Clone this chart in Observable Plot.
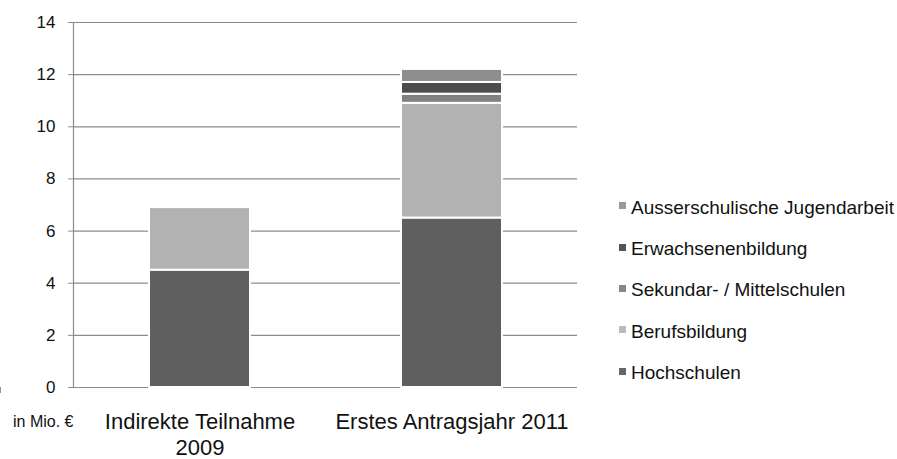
<!DOCTYPE html>
<html>
<head>
<meta charset="utf-8">
<script src="https://cdn.jsdelivr.net/npm/d3@7"></script>
<script src="https://cdn.jsdelivr.net/npm/@observablehq/plot@0.6"></script>
<style>
  html, body { margin: 0; padding: 0; background: #fff; }
  #wrap { position: relative; width: 897px; height: 459px; font-family: "Liberation Sans", Arial, sans-serif; }
  #unit { position: absolute; left: 13px; top: 413.5px; font-size: 16px; line-height: 16px; color: #111; white-space: nowrap; }
  #legend { position: absolute; left: 0; top: 0; font-size: 19px; color: #111; }
  #legend .item { position: absolute; left: 631px; height: 41.3px; line-height: 41.3px; white-space: nowrap; }
  #legend .sw { position: absolute; left: -12px; top: 15.5px; width: 7px; height: 7px; }
</style>
</head>
<body>
<div id="wrap">
  <div id="unit">in Mio. €</div>
  <div id="legend"></div>
</div>
<script>
const categories = ["Indirekte Teilnahme\n2009", "Erstes Antragsjahr 2011"];
const series = ["Hochschulen", "Berufsbildung", "Sekundar- / Mittelschulen", "Erwachsenenbildung", "Ausserschulische Jugendarbeit"];
const colors = ["#5f5f5f", "#b2b2b2", "#808080", "#4d4d4d", "#8e8e8e"];
const legendColors = ["#666666", "#bbbbbb", "#888888", "#555555", "#999999"];
const values2009 = [4.5, 2.4, 0, 0, 0];
const values2011 = [6.5, 4.4, 0.35, 0.45, 0.5];
const yTicks = [0, 2, 4, 6, 8, 10, 12, 14];

const data = [];
series.forEach((s, i) => {
  data.push({cat: categories[0], series: s, value: values2009[i]});
  data.push({cat: categories[1], series: s, value: values2011[i]});
});

function boundaryTicks(index, scales, values, dimensions) {
  const x = scales.x;
  const step = x.step ? x.step() : (x.bandwidth / 0.4);
  const bw = x.bandwidth;
  const y0 = dimensions.height - dimensions.marginBottom;
  const g = d3.create("svg:g");
  const xs = [];
  categories.forEach((c, i) => {
    const left = x(c) - (step - bw) / 2;
    xs.push(left);
    if (i === categories.length - 1) xs.push(left + step);
  });
  xs.forEach(px => {
    g.append("line").attr("x1", px).attr("x2", px).attr("y1", y0).attr("y2", y0 + 6)
      .attr("stroke", "#8c8c8c").attr("stroke-width", 1.2);
  });
  return g.node();
}

const chart = Plot.plot({
  width: 897,
  height: 459,
  marginLeft: 73,
  marginRight: 320,
  marginTop: 22,
  marginBottom: 72,
  style: {fontFamily: "Liberation Sans, Arial, sans-serif", color: "#111", background: "transparent"},
  x: {domain: categories, paddingInner: 0.6, paddingOuter: 0.3, label: null},
  y: {domain: [0, 14], label: null},
  color: {domain: series, range: colors},
  marks: [
    Plot.gridY(yTicks, {stroke: "#8c8c8c", strokeOpacity: 1, strokeWidth: 1.2}),
    Plot.frame({anchor: "left", stroke: "#8c8c8c", strokeWidth: 1.2}),
    Plot.ruleY([0], {stroke: "#8c8c8c", strokeWidth: 1.2}),
    Plot.axisY({ticks: yTicks, tickSize: 5, tickPadding: 13, fontSize: 17, stroke: "#8c8c8c", label: null}),
    Plot.axisX({tickSize: 0, tickPadding: 22, fontSize: 22, lineHeight: 1.22, label: null}),
    boundaryTicks,
    Plot.barY(data, Plot.stackY({
      filter: d => d.value > 0,
      x: "cat", y: "value", fill: "series", order: series,
      stroke: "white", strokeWidth: 2,
      style: {filter: "drop-shadow(0px 0px 1.5px rgba(0,0,0,0.35))"}
    }))
  ]
});
document.getElementById("wrap").prepend(chart);
chart.style.position = "absolute";
chart.style.left = "0";
chart.style.top = "0";

const legend = document.getElementById("legend");
const order = series.slice().reverse();
order.forEach((s, k) => {
  const i = series.indexOf(s);
  const item = document.createElement("div");
  item.className = "item";
  item.style.top = (186.8 + k * 41.3) + "px";
  const sw = document.createElement("span");
  sw.className = "sw";
  sw.style.background = legendColors[i];
  const lab = document.createElement("span");
  lab.textContent = s;
  item.appendChild(sw);
  item.appendChild(lab);
  legend.appendChild(item);
});
</script>
</body>
</html>
